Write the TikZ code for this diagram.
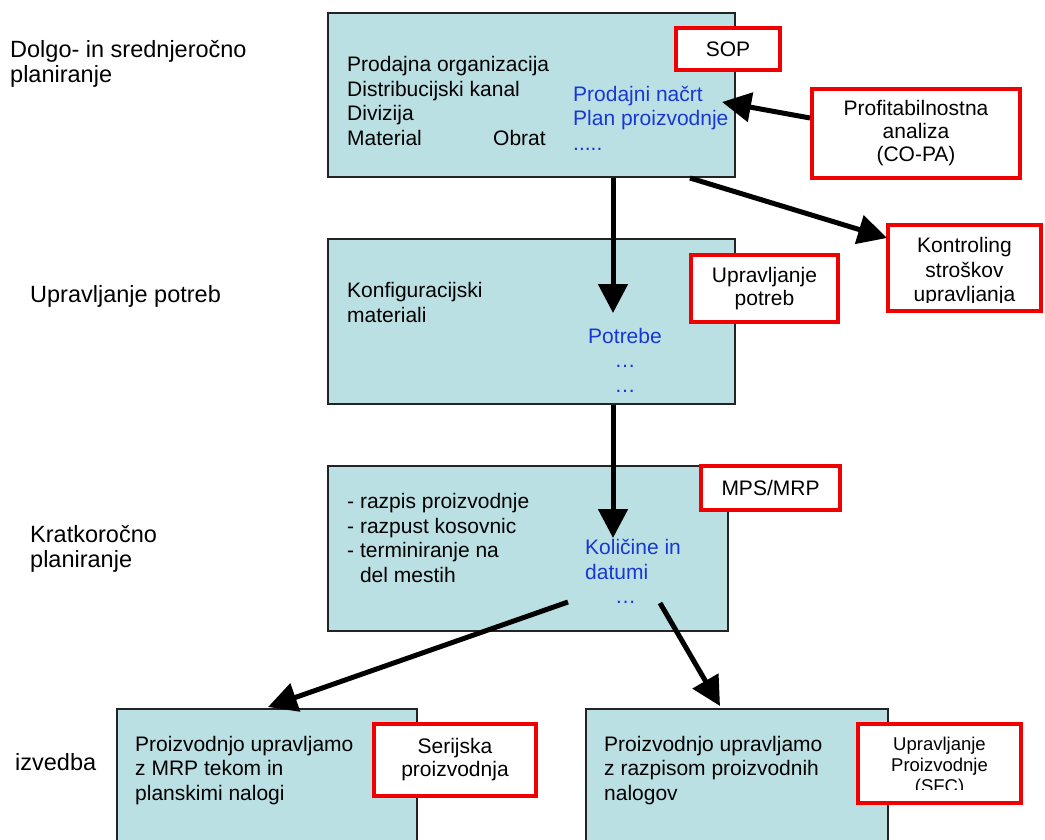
\documentclass[tikz,border=0pt]{standalone}
\usepackage{fontspec}
\setmainfont{Liberation Sans}
\usetikzlibrary{arrows.meta}
\definecolor{boxfill}{RGB}{187,224,227}
\definecolor{boxline}{RGB}{35,35,35}
\definecolor{planblue}{RGB}{25,55,210}
\definecolor{tagred}{RGB}{240,0,0}
\begin{document}
\begin{tikzpicture}[x=1pt,y=-1pt,
  bluebox/.style={draw=boxline, line width=1.8pt, fill=boxfill, inner sep=0, rectangle},
  tag/.style={draw=tagred, line width=4pt, fill=white, inner sep=0, align=center,
    font=\fontsize{21}{23}\selectfont},
  tagtext/.style={inner sep=0, align=center},
  body/.style={inner sep=0, anchor=base west, align=left, font=\fontsize{21}{24.5}\selectfont},
  plan/.style={body, text=planblue},
  level/.style={inner sep=0, anchor=base west, align=left, font=\fontsize{23.5}{25}\selectfont},
  flow/.style={line width=5pt, -{Triangle[length=29pt,width=29pt]}}]
\useasboundingbox (0,0) rectangle (1045,839);

% level labels on the left (multi-line nodes are placed by their last baseline)
\node[level] (lvl1) at (10,82) {Dolgo- in srednjeročno\\planiranje};
\node[level] (lvl2) at (30,302) {Upravljanje potreb};
\node[level] (lvl3) at (30,567) {Kratkoročno\\planiranje};
\node[level] (lvl4) at (15,770) {izvedba};

% stage boxes
\node[bluebox, minimum width=407pt, minimum height=164pt] (sop) at (531.5,95) {};
\node[bluebox, minimum width=407pt, minimum height=165pt] (need) at (531.5,321.5) {};
\node[bluebox, minimum width=400pt, minimum height=165pt] (mrp) at (528,548.5) {};
\node[bluebox, minimum width=300pt, minimum height=160pt, anchor=north west] (serial) at (116,708) {};
\node[bluebox, minimum width=302pt, minimum height=160pt, anchor=north west] (orders) at (585,708) {};

% stage contents
\node[body] (sopl) at (347,145) {Prodajna organizacija\\Distribucijski kanal\\Divizija\\Material};
\node[body] (sopo) at (493,145) {Obrat};
\node[plan] (sopr) at (573,150) {Prodajni načrt\\Plan proizvodnje\\.....};
\node[body] (needl) at (347,322) {Konfiguracijski\\materiali};
\node[plan, anchor=base, align=center] (needr) at (625,392) {Potrebe\\…\\…};
\node[body] (mrpl) at (347,582) {- razpis proizvodnje\\- razpust kosovnic\\- terminiranje na\\\hphantom{- }del mestih};
\node[plan] (mrpr) at (585,579) {Količine in\\datumi};
\node[plan] (mrpd) at (615,603) {…};
\node[body] (seriall) at (135,800) {Proizvodnjo upravljamo\\z MRP tekom in\\planskimi nalogi};
\node[body] (ordersl) at (604,800) {Proizvodnjo upravljamo\\z razpisom proizvodnih\\nalogov};

% module tags
\node[tag, minimum width=104pt, minimum height=42pt] (tsop) at (728,49) {SOP};
\node[tag, minimum width=208pt, minimum height=89pt] (tcopa) at (916,133.5) {Profitabilnostna\\analiza\\(CO-PA)};
\node[tag, minimum width=153pt, minimum height=86pt] (tco) at (964.5,268) {};
\begin{scope}
  \clip (890,227) rectangle (1040,302);
  \node[tagtext, font=\fontsize{21}{24.5}\selectfont] (tcot) at (964.5,272) {Kontroling\\stroškov\\upravljanja};
\end{scope}
\node[tag, minimum width=147pt, minimum height=67pt] (tneed) at (764.5,288.5) {Upravljanje\\potreb};
\node[tag, minimum width=139pt, minimum height=44pt] (tmrp) at (770.5,488) {MPS/MRP};
\node[tag, minimum width=162pt, minimum height=72pt] (tserial) at (455,760) {Serijska\\proizvodnja};
\node[tag, minimum width=163pt, minimum height=79pt] (tsfc) at (939.5,763.5) {};
\begin{scope}
  \clip (860,726) rectangle (1019,789);
  \node[tagtext, font=\fontsize{18.5}{21}\selectfont] (tsfct) at (939.5,767) {Upravljanje\\Proizvodnje\\(SFC)};
\end{scope}

% connector end points
\coordinate (copaout) at (810,118);
\coordinate (sopin) at (722,102);
\coordinate (sopout) at (690,178);
\coordinate (coin) at (887,238);
\coordinate (sopdown) at (613,178);
\coordinate (needin) at (613,313);
\coordinate (needdown) at (613,405);
\coordinate (mrpin) at (613,538);
\coordinate (mrpoutl) at (568,602);
\coordinate (serialin) at (268,707);
\coordinate (mrpoutr) at (660,603);
\coordinate (ordersin) at (720,706);

% flows
\draw[flow] (copaout) -- (sopin);
\draw[flow] (sopout) -- (coin);
\draw[flow] (sopdown) -- (needin);
\draw[flow] (needdown) -- (mrpin);
\draw[flow] (mrpoutl) -- (serialin);
\draw[flow] (mrpoutr) -- (ordersin);
\end{tikzpicture}
\end{document}
